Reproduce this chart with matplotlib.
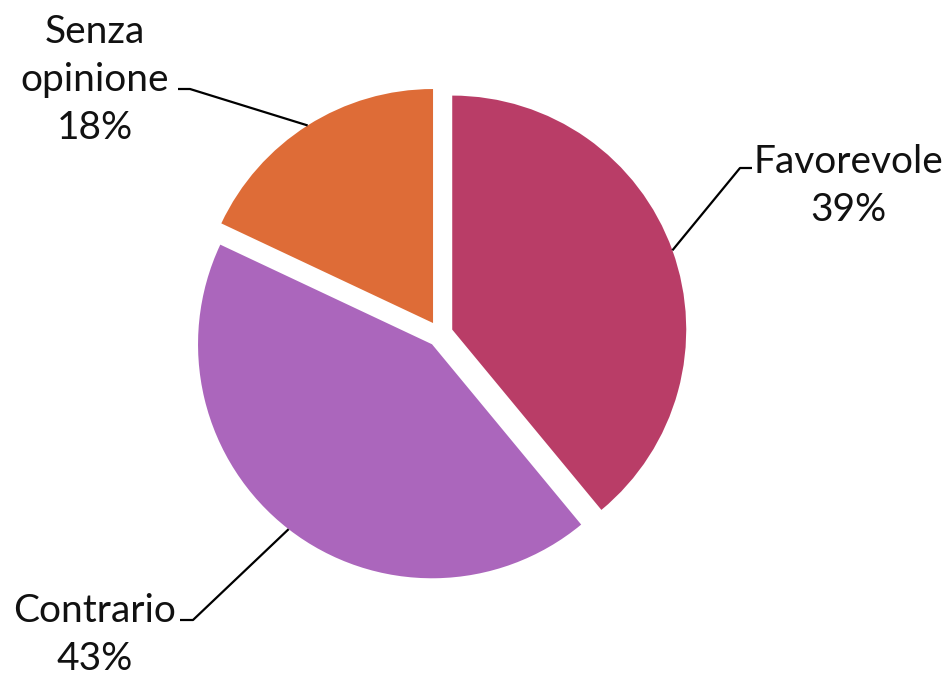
import numpy as np
import matplotlib.pyplot as plt

# data
labels = ["Favorevole", "Contrario", "Senza\nopinione"]
shares = [39, 43, 18]
colors = ["#B93D67", "#AB66BC", "#DE6C37"]

W, H = 949, 677
cx, cy = 440, H - 334
radius = 234
gap = 13

fig = plt.figure(figsize=(W / 100, H / 100), dpi=100)
ax = fig.add_axes([0, 0, 1, 1])

wedges, _ = ax.pie(shares, colors=colors, startangle=90, counterclock=False,
                   center=(cx, cy), radius=radius, explode=[gap] * 3,
                   wedgeprops=dict(linewidth=0))
ax.set_xlim(0, W)
ax.set_ylim(0, H)
ax.set_aspect("equal")
ax.axis("off")

# label placement (pixel coords from the top-left) and leader elbows
text_pos = [(848, 186), (95, 635), (95, 80)]
elbows = [[(740, 168), (752, 168)],
          [(193, 620), (180, 620)],
          [(190, 89), (178, 89)]]

for w, lab, val, tp, el in zip(wedges, labels, shares, text_pos, elbows):
    mid = np.deg2rad((w.theta1 + w.theta2) / 2)
    x0 = w.center[0] + w.r * np.cos(mid)
    y0 = w.center[1] + w.r * np.sin(mid)
    xs = [x0] + [p[0] for p in el]
    ys = [y0] + [H - p[1] for p in el]
    ax.plot(xs, ys, color="black", lw=1.6, solid_capstyle="butt")
    ax.text(tp[0], H - tp[1], f"{lab}\n{val}%", ha="center", va="center",
            multialignment="center", fontsize=28, family="Lato",
            linespacing=1.42, color="#111111")

fig.savefig("out.png", dpi=100)
